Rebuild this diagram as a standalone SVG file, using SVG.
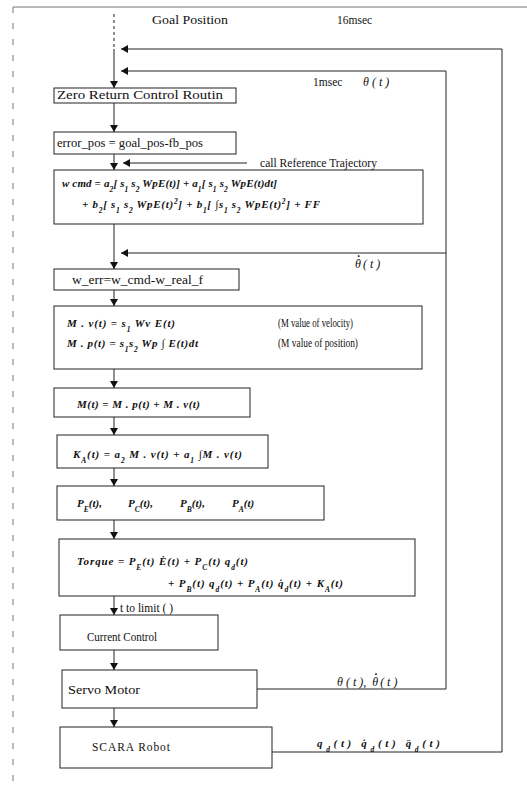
<svg xmlns="http://www.w3.org/2000/svg" width="527" height="797" viewBox="0 0 527 797">
<defs>
<marker id="ad" viewBox="0 0 8 7" refX="4" refY="7" markerWidth="8" markerHeight="7" markerUnits="userSpaceOnUse" orient="0">
<path d="M0,0 L8,0 L4,7 Z" fill="#111"/>
</marker>
<marker id="al" viewBox="0 0 7 8" refX="0" refY="4" markerWidth="7" markerHeight="8" markerUnits="userSpaceOnUse" orient="0">
<path d="M7,0 L7,8 L0,4 Z" fill="#111"/>
</marker>
</defs>
<style>
.box{fill:#fff;stroke:#222;stroke-width:1}
.ln{fill:none;stroke:#222;stroke-width:1}
.fr{fill:none;stroke:#777;stroke-width:1}
.t{font-family:"Liberation Serif",serif;font-size:11.5px;fill:#111}
.m{font-family:"Liberation Serif",serif;font-size:11px;font-style:italic;font-weight:bold;fill:#111}
.g{font-family:"Liberation Serif",serif;font-size:12px;font-style:italic;fill:#111}
.s{font-size:7.5px}
</style>
<rect width="527" height="797" fill="#fff"/>
<g id="frame">
<line class="fr" x1="13" y1="7" x2="527" y2="7"/>
<line class="fr" x1="13" y1="7" x2="13" y2="785" stroke-dasharray="6 10"/>
</g>
<g id="connectors">
<line class="ln" x1="114" y1="14" x2="114" y2="49" stroke="#888" stroke-dasharray="3 3"/>
<line class="ln" x1="114" y1="49" x2="114" y2="71"/>
<line class="ln" x1="114" y1="71" x2="114" y2="88" marker-end="url(#ad)"/>
<path class="ln" d="M272,752 H502 V49 H121" marker-end="url(#al)"/>
<path class="ln" d="M257,689 H446 V71 H121" marker-end="url(#al)"/>
<line class="ln" x1="446" y1="253" x2="121" y2="253" marker-end="url(#al)"/>
<line class="ln" x1="247" y1="163" x2="123" y2="163" marker-end="url(#al)"/>
<line class="ln" x1="114" y1="103" x2="114" y2="132" marker-end="url(#ad)"/>
<line class="ln" x1="114" y1="154" x2="114" y2="170" marker-end="url(#ad)"/>
<line class="ln" x1="114" y1="224" x2="114" y2="269" marker-end="url(#ad)"/>
<line class="ln" x1="114" y1="290" x2="114" y2="306" marker-end="url(#ad)"/>
<line class="ln" x1="114" y1="369" x2="114" y2="388" marker-end="url(#ad)"/>
<line class="ln" x1="114" y1="417" x2="114" y2="435" marker-end="url(#ad)"/>
<line class="ln" x1="114" y1="468" x2="114" y2="486" marker-end="url(#ad)"/>
<line class="ln" x1="114" y1="520" x2="114" y2="539" marker-end="url(#ad)"/>
<line class="ln" x1="114" y1="596" x2="114" y2="615" marker-end="url(#ad)"/>
<line class="ln" x1="114" y1="650" x2="114" y2="670" marker-end="url(#ad)"/>
<line class="ln" x1="114" y1="708" x2="114" y2="727" marker-end="url(#ad)"/>
</g>
<g id="labels">
<text class="t" x="152" y="24" textLength="76" lengthAdjust="spacingAndGlyphs">Goal Position</text>
<text class="t" x="337" y="24">16msec</text>
<text class="t" x="313" y="86">1msec</text>
<text class="g" x="363" y="86" xml:space="preserve">θ ( t )</text>
<text class="t" x="260" y="167" textLength="117" lengthAdjust="spacingAndGlyphs">call Reference Trajectory</text>
<text class="g" x="355" y="268" xml:space="preserve">θ<tspan dx="-5" dy="-4" font-weight="bold">˙</tspan><tspan dy="4"> ( t )</tspan></text>
<text class="t" x="120" y="612" font-size="10.5">t to limit ( )</text>
<text class="g" x="337" y="686" xml:space="preserve">θ ( t ),  θ<tspan dx="-5" dy="-4" font-weight="bold">˙</tspan><tspan dy="4"> ( t )</tspan></text>
<text class="m" x="317" y="747" font-size="12" textLength="123" lengthAdjust="spacing">q<tspan class="s" baseline-shift="sub">d</tspan>(t)   q̇<tspan class="s" baseline-shift="sub">d</tspan>(t)   q̈<tspan class="s" baseline-shift="sub">d</tspan>(t)</text>
</g>
<g id="n1">
<rect class="box" x="54" y="88" width="182" height="15"/>
<text class="t" x="57" y="99" textLength="166" lengthAdjust="spacingAndGlyphs">Zero  Return  Control  Routin</text>
</g>
<g id="n2">
<rect class="box" x="54" y="132" width="182" height="22"/>
<text class="t" x="57" y="147" textLength="146" lengthAdjust="spacingAndGlyphs">error_pos = goal_pos-fb_pos</text>
</g>
<g id="n3">
<rect class="box" x="54" y="170" width="369" height="54"/>
<text class="m" x="62" y="187" textLength="215" lengthAdjust="spacing">w   cmd  =   a<tspan class="s" baseline-shift="sub">2</tspan>[ s<tspan class="s" baseline-shift="sub">1</tspan> s<tspan class="s" baseline-shift="sub">2</tspan> WpE(t)] + a<tspan class="s" baseline-shift="sub">1</tspan>[ s<tspan class="s" baseline-shift="sub">1</tspan> s<tspan class="s" baseline-shift="sub">2</tspan> WpE(t)dt]</text>
<text class="m" x="82" y="208" textLength="238" lengthAdjust="spacing">+ b<tspan class="s" baseline-shift="sub">2</tspan>[ s<tspan class="s" baseline-shift="sub">1</tspan> s<tspan class="s" baseline-shift="sub">2</tspan> WpE(t)<tspan class="s" baseline-shift="super">2</tspan>] + b<tspan class="s" baseline-shift="sub">1</tspan>[ ∫s<tspan class="s" baseline-shift="sub">1</tspan> s<tspan class="s" baseline-shift="sub">2</tspan> WpE(t)<tspan class="s" baseline-shift="super">2</tspan>]  +  FF</text>
</g>
<g id="n4">
<rect class="box" x="54" y="269" width="185" height="21"/>
<text class="t" x="72" y="284" textLength="131" lengthAdjust="spacingAndGlyphs">w_err=w_cmd-w_real_f</text>
</g>
<g id="n5">
<rect class="box" x="54" y="306" width="368" height="63"/>
<text class="m" x="67" y="327" textLength="108" lengthAdjust="spacing">M . v(t) = s<tspan class="s" baseline-shift="sub">1</tspan> Wv E(t)</text>
<text class="m" x="67" y="347" textLength="131" lengthAdjust="spacing">M . p(t) = s<tspan class="s" baseline-shift="sub">1</tspan>s<tspan class="s" baseline-shift="sub">2</tspan> Wp ∫ E(t)dt</text>
<text class="t" x="278" y="327" textLength="75" lengthAdjust="spacingAndGlyphs">(M value of velocity)</text>
<text class="t" x="278" y="347" textLength="80" lengthAdjust="spacingAndGlyphs">(M value of position)</text>
</g>
<g id="n6">
<rect class="box" x="54" y="388" width="196" height="29"/>
<text class="m" x="77" y="408" textLength="123" lengthAdjust="spacing">M(t) = M . p(t) + M . v(t)</text>
</g>
<g id="n7">
<rect class="box" x="57" y="435" width="211" height="33"/>
<text class="m" x="73" y="458" textLength="169" lengthAdjust="spacing">K<tspan class="s" baseline-shift="sub">A</tspan>(t) = a<tspan class="s" baseline-shift="sub">2</tspan> M . v(t) + a<tspan class="s" baseline-shift="sub">1</tspan> ∫M . v(t)</text>
</g>
<g id="n8">
<rect class="box" x="57" y="486" width="267" height="34"/>
<text class="m" x="77" y="507">P<tspan class="s" baseline-shift="sub">E</tspan>(t),</text>
<text class="m" x="128" y="507">P<tspan class="s" baseline-shift="sub">C</tspan>(t),</text>
<text class="m" x="180" y="507">P<tspan class="s" baseline-shift="sub">B</tspan>(t),</text>
<text class="m" x="232" y="507">P<tspan class="s" baseline-shift="sub">A</tspan>(t)</text>
</g>
<g id="n9">
<rect class="box" x="59" y="539" width="356" height="57"/>
<text class="m" x="77" y="565" textLength="171" lengthAdjust="spacing">Torque = P<tspan class="s" baseline-shift="sub">E</tspan>(t)  Ė(t) + P<tspan class="s" baseline-shift="sub">C</tspan>(t) q<tspan class="s" baseline-shift="sub">d</tspan>(t)</text>
<text class="m" x="168" y="587" textLength="175" lengthAdjust="spacing">+ P<tspan class="s" baseline-shift="sub">B</tspan>(t)   q<tspan class="s" baseline-shift="sub">d</tspan>(t) + P<tspan class="s" baseline-shift="sub">A</tspan>(t)   q̇<tspan class="s" baseline-shift="sub">d</tspan>(t) + K<tspan class="s" baseline-shift="sub">A</tspan>(t)</text>
</g>
<g id="n10">
<rect class="box" x="60" y="615" width="158" height="35"/>
<text class="t" x="87" y="641" textLength="70" lengthAdjust="spacingAndGlyphs">Current Control</text>
</g>
<g id="n11">
<rect class="box" x="62" y="670" width="195" height="38"/>
<text class="t" x="68" y="694" textLength="72" lengthAdjust="spacingAndGlyphs">Servo Motor</text>
</g>
<g id="n12">
<rect class="box" x="60" y="727" width="212" height="41"/>
<text class="t" x="92" y="751" textLength="78" lengthAdjust="spacing">SCARA  Robot</text>
</g>
</svg>
